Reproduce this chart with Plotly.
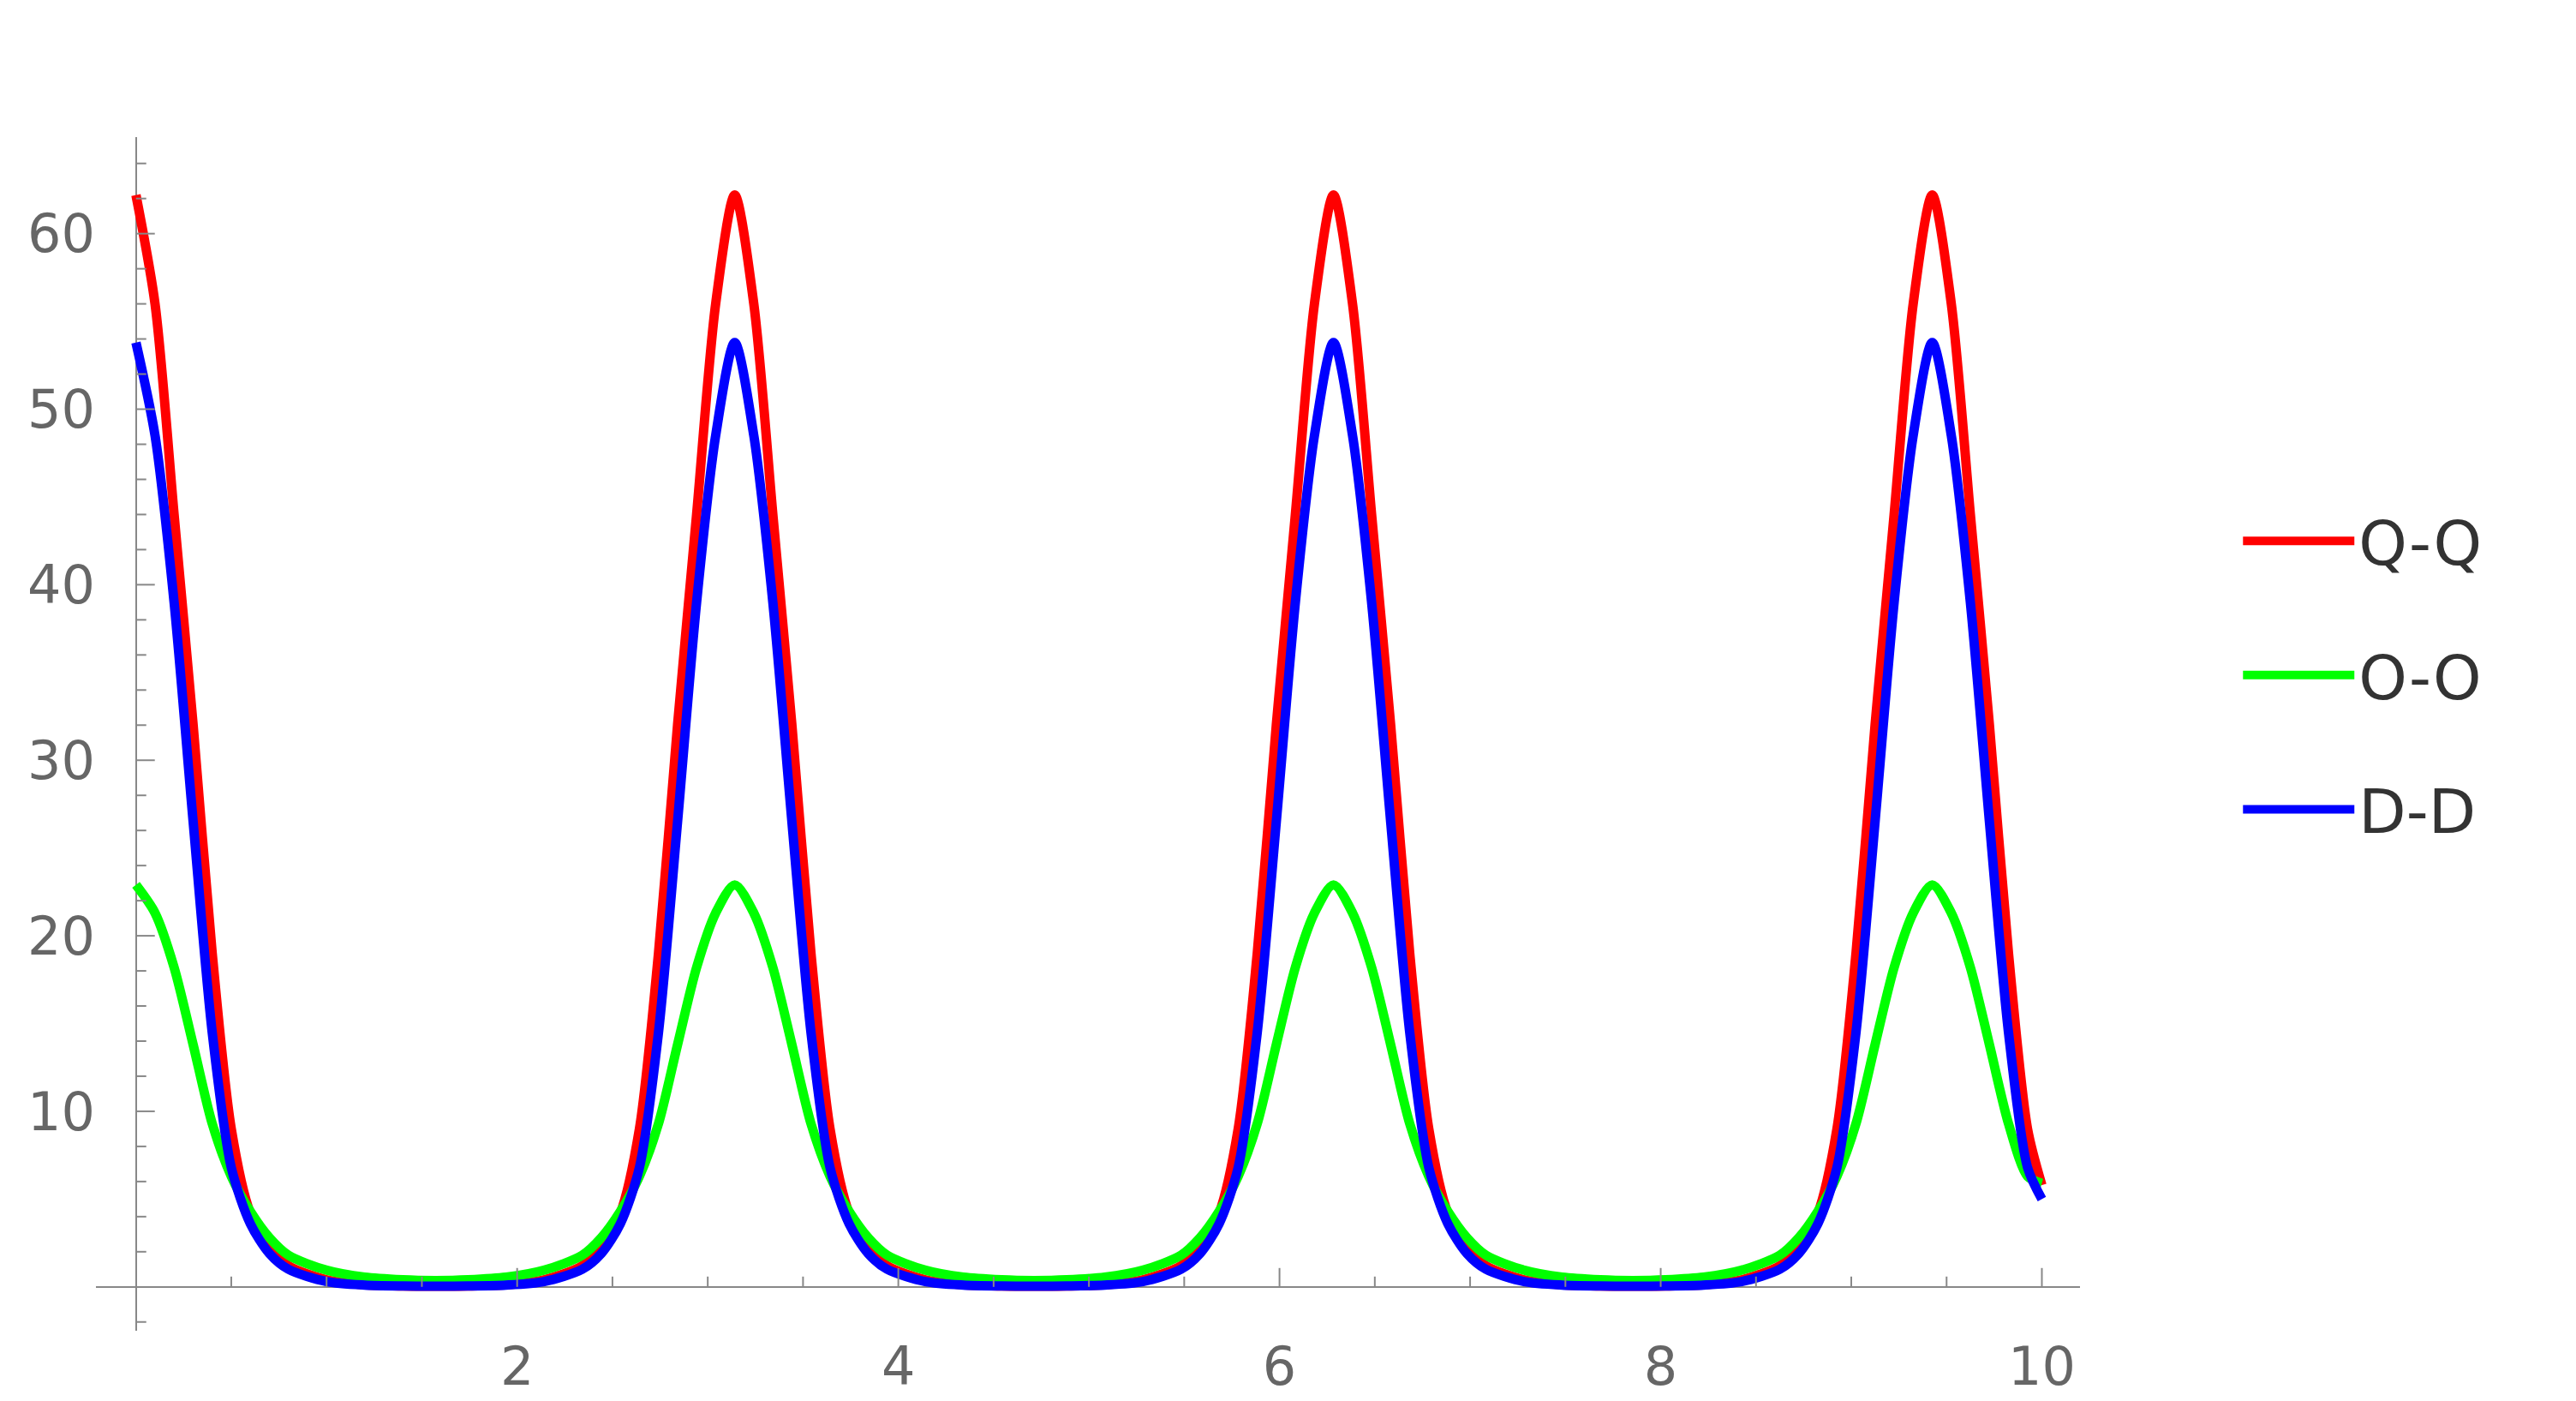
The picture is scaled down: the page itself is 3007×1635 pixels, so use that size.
import plotly.graph_objects as go

# one arch: offset from a peak centre -> value
offsets = [0.0, 0.1, 0.2, 0.3, 0.4, 0.5, 0.6, 0.7, 0.8, 1.0, 1.2, 1.4, 1.57]
qq_arch = [62.2, 56.0, 44.0, 32.0, 19.0, 9.0, 4.2, 2.3, 1.2, 0.4, 0.12, 0.05, 0.04]
oo_arch = [22.9, 21.3, 18.2, 13.8, 9.3, 6.3, 4.3, 2.8, 1.8, 0.95, 0.55, 0.4, 0.35]
dd_arch = [53.8, 48.5, 39.0, 26.5, 14.5, 6.8, 3.6, 1.9, 1.0, 0.3, 0.1, 0.05, 0.04]
peaks = [0.0, 3.1416, 6.2832, 9.4248]
r_end = 10.0
end_vals = {"Q-Q": 5.8, "O-O": 5.9, "D-D": 5.0}

names = ["Q-Q", "O-O", "D-D"]
colors = ["#ff0000", "#00ff00", "#0000ff"]
arches = [qq_arch, oo_arch, dd_arch]


def build(arch, end_val):
    xs, ys = [], []
    for i, c in enumerate(peaks):
        if i > 0:
            for o, v in zip(offsets[:0:-1], arch[:0:-1]):
                xs.append(c - o); ys.append(v)
        for o, v in zip(offsets, arch):
            if c + o >= r_end:
                break
            if i < len(peaks) - 1 or o < 0.55:
                xs.append(c + o); ys.append(v)
        if i < len(peaks) - 1 and xs[-1] >= peaks[i + 1] - offsets[-1] - 1e-6:
            xs.pop(); ys.pop()
    xs.append(r_end); ys.append(end_val)
    return xs, ys


fig = go.Figure()
for name, col, arch in zip(names, colors, arches):
    xs, ys = build(arch, end_vals[name])
    fig.add_trace(go.Scatter(x=xs, y=ys, mode="lines", name=name, legendgroup=name,
                             line=dict(color=col, width=11, shape="spline", smoothing=0.8)))

gray = "#888888"
shapes = []
for k in range(1, 21):
    x = k * 0.5
    big = k % 4 == 0
    shapes.append(dict(type="line", xref="x", yref="y", ysizemode="pixel", yanchor=0,
                       x0=x, x1=x, y0=0, y1=22 if big else 12, line=dict(color=gray, width=2)))
for k in range(-1, 33):
    y = k * 2
    if y == 0:
        continue
    big = y % 10 == 0
    shapes.append(dict(type="line", xref="x", yref="y", xsizemode="pixel", xanchor=0,
                       x0=0, x1=22 if big else 12, y0=y, y1=y, line=dict(color=gray, width=2)))

fig.update_layout(
    width=3007, height=1635, plot_bgcolor="white", paper_bgcolor="white",
    margin=dict(l=104, r=587, t=152, b=75),
    shapes=shapes,
    font=dict(family="DejaVu Sans", color="#666666"),
    legend=dict(x=1.08, y=0.7, xanchor="left", yanchor="top", tracegroupgap=60,
                font=dict(size=72, color="#333333"), itemwidth=130),
    annotations=[
        dict(text="n", x=0, y=70.5, xref="x", yref="y", showarrow=False,
             font=dict(size=80, color="black")),
        dict(text="r", x=10.52, y=0, xref="x", yref="y", showarrow=False,
             font=dict(size=80, color="black")),
    ],
)
fig.update_xaxes(range=[-0.21, 10.2], showgrid=False, zeroline=True, zerolinecolor=gray,
                 zerolinewidth=2, tickvals=[2, 4, 6, 8, 10], ticks="",
                 tickfont=dict(size=62, color="#666666"), showline=False)
fig.update_yaxes(range=[-2.5, 65.5], showgrid=False, zeroline=True, zerolinecolor=gray,
                 zerolinewidth=2, tickvals=[10, 20, 30, 40, 50, 60], ticks="",
                 tickfont=dict(size=62, color="#666666"), showline=False)

fig.write_html("out.html")
